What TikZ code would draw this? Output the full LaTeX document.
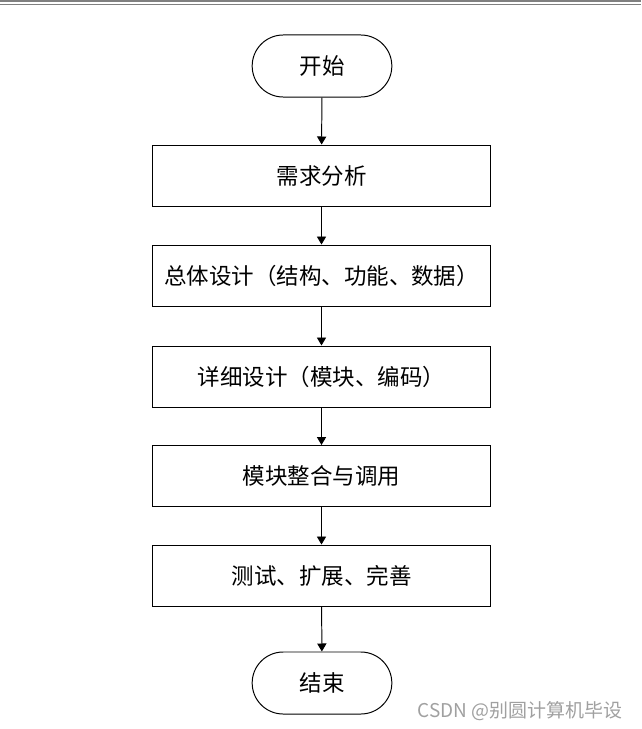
\documentclass[tikz,border=0pt]{standalone}
\usepackage{fontspec}
\usepackage{tikz}
\usetikzlibrary{shapes.misc, arrows.meta, positioning}
\newfontfamily\cjk{Noto Sans CJK SC}
\definecolor{rulegray}{RGB}{128,128,128}
\definecolor{markgray}{RGB}{160,160,160}

\begin{document}
\begin{tikzpicture}[
    x=0.025cm, y=-0.025cm,
    terminal/.style={draw, rounded rectangle, minimum width=3.725cm, minimum height=1.55cm, line width=0.7pt, font=\cjk\fontsize{16}{18}\selectfont},
    process/.style={draw, rectangle, minimum width=8.425cm, minimum height=1.525cm, line width=0.7pt, font=\cjk\fontsize{16}{18}\selectfont},
    arrow/.style={-{Triangle[length=2mm, width=2.3mm]}, line width=0.7pt}
]
\useasboundingbox (0,0) rectangle (641,729);

% page rules at the top
\draw[rulegray, line width=2.5*0.025cm] (0,1.25) -- (641,1.25);
\draw[rulegray, line width=0.025cm] (0,4.8) -- (641,4.8);

% Flow
\node[terminal] (start) at (322,66) {开始};
\node[process] (req) at (321.5,175.5) {需求分析};
\node[process] (overall) at (321.5,275.5) {总体设计（结构、功能、数据）};
\node[process] (detail) at (321.5,376.5) {详细设计（模块、编码）};
\node[process] (integ) at (321.5,476) {模块整合与调用};
\node[process] (test) at (321.5,575.5) {测试、扩展、完善};
\node[terminal] (stop) at (322,683) {结束};

\draw[arrow] (start) -- (req);
\draw[arrow] (req) -- (overall);
\draw[arrow] (overall) -- (detail);
\draw[arrow] (detail) -- (integ);
\draw[arrow] (integ) -- (test);
\draw[arrow] (test) -- (stop);

% watermark
\node[anchor=east, text=markgray, font=\cjk\fontsize{13.5}{15}\selectfont, inner sep=0pt] (mark) at (623,711) {CSDN @别圆计算机毕设};

\end{tikzpicture}
\end{document}
